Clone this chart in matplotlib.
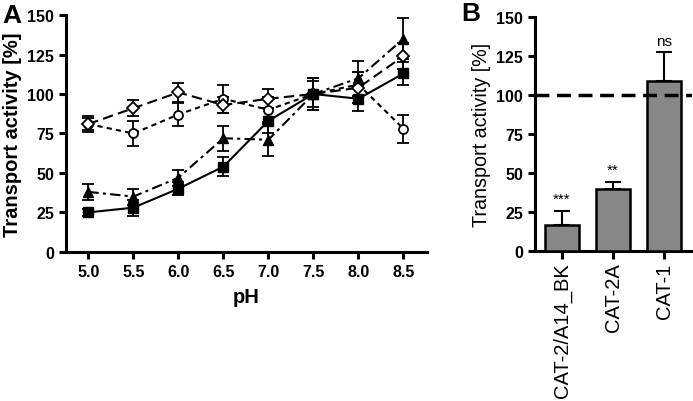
import numpy as np
import matplotlib
matplotlib.use('Agg')
from matplotlib import pyplot as plt

plt.rcParams['font.family'] = ['Liberation Sans', 'DejaVu Sans']

# panel A: pH dependence
ph = [5.0, 5.5, 6.0, 6.5, 7.0, 7.5, 8.0, 8.5]
square_val = [25, 28, 40, 54, 83, 100, 97, 113]
square_err = [2, 5, 4, 6, 8, 10, 8, 7]
triangle_val = [38, 35, 47, 72, 71, 100, 110, 135]
triangle_err = [5, 5, 5, 8, 10, 10, 11, 13]
diamond_val = [81, 91, 101, 93, 97, 100, 104, 124]
diamond_err = [4, 5, 6, 5, 6, 8, 10, 8]
circle_val = [81, 75, 87, 97, 90, 100, 106, 78]
circle_err = [5, 8, 7, 9, 8, 10, 8, 9]

# panel B: bars
bar_labels = ['CAT-2/A14_BK', 'CAT-2A', 'CAT-1']
bar_val = [17, 40, 109]
bar_err = [9, 4.5, 18.5]
bar_sig = ['***', '**', 'ns']

fig = plt.figure(figsize=(6.93, 4.02), dpi=100)
axA = fig.add_axes([0.095, 0.371, 0.521, 0.589])
axB = fig.add_axes([0.772, 0.373, 0.226, 0.582])

ebkw = dict(color='black', elinewidth=1.3, capsize=4, capthick=1.3, lw=1.5)
axA.errorbar(ph, circle_val, yerr=circle_err, fmt='o', ls=(0, (2.5, 2)),
             mfc='white', mec='black', ms=6.5, mew=1.3, **ebkw)
axA.errorbar(ph, diamond_val, yerr=diamond_err, fmt='D', ls=(0, (5, 2.5)),
             mfc='white', mec='black', ms=6, mew=1.3, **ebkw)
axA.errorbar(ph, triangle_val, yerr=triangle_err, fmt='^', ls=(0, (5, 2, 1.5, 2)),
             mfc='black', mec='black', ms=7, **ebkw)
axA.errorbar(ph, square_val, yerr=square_err, fmt='s', ls='-',
             mfc='black', mec='black', ms=6.5, **ebkw)

axA.set_xlim(4.75, 8.76)
axA.set_ylim(0, 150)
axA.set_xticks(ph)
axA.set_xticklabels([f'{p:.1f}' for p in ph])
axA.set_yticks([0, 25, 50, 75, 100, 125, 150])
axA.set_xlabel('pH', fontsize=14.5, fontweight='bold', labelpad=6)
axA.set_ylabel('Transport activity [%]', fontsize=14.5, fontweight='bold', labelpad=4)

x = np.arange(len(bar_labels))
axB.bar(x, bar_val, width=0.67, color='#878787', edgecolor='black', linewidth=1.8,
        zorder=3)
axB.errorbar(x, bar_val, yerr=[[0] * 3, bar_err], fmt='none', ecolor='black',
             elinewidth=1.5, capsize=6, capthick=1.5, zorder=2)
axB.axhline(100, color='black', lw=2.5, ls=(0, (4, 2.2)), zorder=4)
for xi, v, e, s in zip(x, bar_val, bar_err, bar_sig):
    axB.text(xi, v + e + 3, s, ha='center', va='bottom', fontsize=11)
axB.set_xlim(-0.53, 2.54)
axB.set_ylim(0, 150)
axB.set_yticks([0, 25, 50, 75, 100, 125, 150])
axB.set_xticks(x)
axB.set_xticklabels(bar_labels, rotation=90, fontsize=14.5)
axB.set_ylabel('Transport activity [%]', fontsize=14.2, labelpad=4)

for ax in (axA, axB):
    for side in ('top', 'right'):
        ax.spines[side].set_visible(False)
    for side in ('left', 'bottom'):
        ax.spines[side].set_linewidth(2.2)
    ax.tick_params(width=2.2, length=5, direction='out')
    for lab in ax.get_yticklabels():
        lab.set_fontweight('bold')
        lab.set_fontsize(11.5)
for lab in axA.get_xticklabels():
    lab.set_fontweight('bold')
    lab.set_fontsize(11.5)
axB.tick_params(axis='x', length=6, pad=2)

fig.text(0.003, 0.99, 'A', fontsize=19, fontweight='bold', va='top', ha='left')
fig.text(0.666, 0.995, 'B', fontsize=19, fontweight='bold', va='top', ha='left')

fig.savefig('out.png', dpi=100)
